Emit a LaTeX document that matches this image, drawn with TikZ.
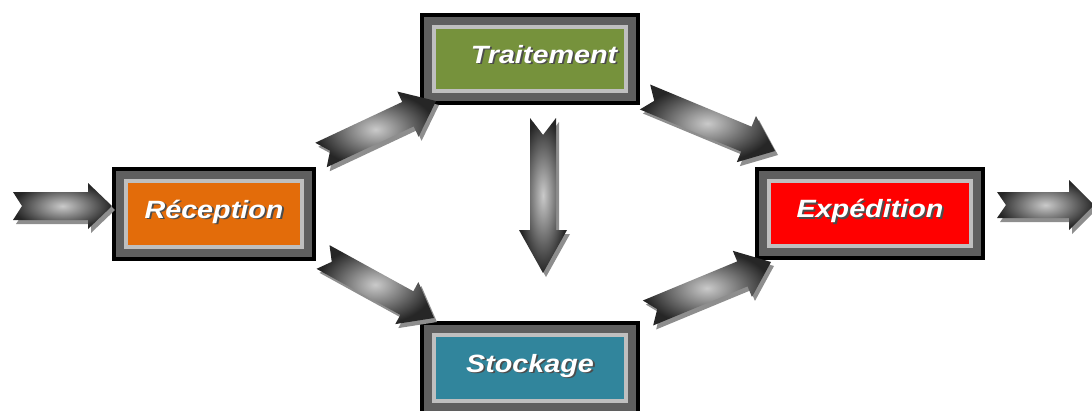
\documentclass[tikz,border=0pt]{standalone}
\usepackage{fontspec}
\setmainfont{Liberation Sans}
\usetikzlibrary{calc}
\definecolor{frameDark}{HTML}{5F5F5F}
\definecolor{frameLight}{HTML}{BFBFBF}
\definecolor{recColor}{HTML}{E36C0A}
\definecolor{trtColor}{HTML}{76923C}
\definecolor{stkColor}{HTML}{31859C}
\definecolor{expColor}{HTML}{FF0000}
\definecolor{arrShadow}{HTML}{8E8E8E}
\definecolor{arrLight}{HTML}{CACACA}
\definecolor{arrDark}{HTML}{262626}
\newcommand\shtext[1]{\scalebox{1.15}[1]{\makebox[0pt][l]{\hspace{1.6pt}\raisebox{-1.6pt}{\color{black!70}#1}}\color{white}#1}}
\newcommand\blkarrow[6]{%
  \fill[arrShadow, transform canvas={shift={(3pt,-4pt)}}]
    ($(#1)!#3!90:(#2)$) -- ($(#2)!#5!(#1)!#3!-90:(#1)$) -- ($(#2)!#5!(#1)!#4!-90:(#1)$) -- (#2)
    -- ($(#2)!#5!(#1)!#4!90:(#1)$) -- ($(#2)!#5!(#1)!#3!90:(#1)$) -- ($(#1)!#3!-90:(#2)$) -- ($(#1)!#6!(#2)$) -- cycle;
  \shade[inner color=arrLight, outer color=arrDark]
    ($(#1)!#3!90:(#2)$) -- ($(#2)!#5!(#1)!#3!-90:(#1)$) -- ($(#2)!#5!(#1)!#4!-90:(#1)$) -- (#2)
    -- ($(#2)!#5!(#1)!#4!90:(#1)$) -- ($(#2)!#5!(#1)!#3!90:(#1)$) -- ($(#1)!#3!-90:(#2)$) -- ($(#1)!#6!(#2)$) -- cycle;
}
\tikzset{
  stagebox/.style={rectangle, inner sep=0pt, draw=frameLight, line width=4pt,
    font=\bfseries\itshape\fontsize{25}{25}\selectfont, text height=18pt, text depth=10pt,
    preaction={draw=black, line width=28pt},
    preaction={draw=frameDark, line width=20pt}},
}
\begin{document}
\begin{tikzpicture}[x=1pt,y=-1pt]
\useasboundingbox (0,0) rectangle (1092,410);

% stages
\node[stagebox, fill=recColor, minimum width=176pt, minimum height=66pt] (rec) at (214,214) {\shtext{Réception}};
\node[stagebox, fill=trtColor, minimum width=192pt, minimum height=64pt] (trt) at (530,59) {\hspace*{28pt}\shtext{Traitement}};
\node[stagebox, fill=stkColor, minimum width=192pt, minimum height=66pt] (stk) at (530,368) {\shtext{Stockage}};
\node[stagebox, fill=expColor, minimum width=202pt, minimum height=65pt] (exp) at (870,213.5) {\shtext{Expédition}};

% arrow end points
\coordinate (inS) at (13,206);   \coordinate (inE) at (112,206);
\coordinate (rtS) at (321,155);  \coordinate (rtE) at (436,101);
\coordinate (rsS) at (323,257);  \coordinate (rsE) at (434,318);
\coordinate (tsS) at (543,118);  \coordinate (tsE) at (543,273);
\coordinate (teS) at (645,97);   \coordinate (teE) at (775,151);
\coordinate (seS) at (648,313);  \coordinate (seE) at (771,262);
\coordinate (outS) at (997,205); \coordinate (outE) at (1094,205);

\blkarrow{inS}{inE}{14pt}{23pt}{24pt}{9pt}
\blkarrow{rtS}{rtE}{13.5pt}{25pt}{31pt}{10pt}
\blkarrow{rsS}{rsE}{13.5pt}{24pt}{31pt}{10pt}
\blkarrow{tsS}{tsE}{13pt}{24pt}{43pt}{17pt}
\blkarrow{teS}{teE}{13.5pt}{25pt}{31pt}{10pt}
\blkarrow{seS}{seE}{13.5pt}{25pt}{31pt}{10pt}
\blkarrow{outS}{outE}{13pt}{25pt}{25pt}{9pt}
\end{tikzpicture}
\end{document}
